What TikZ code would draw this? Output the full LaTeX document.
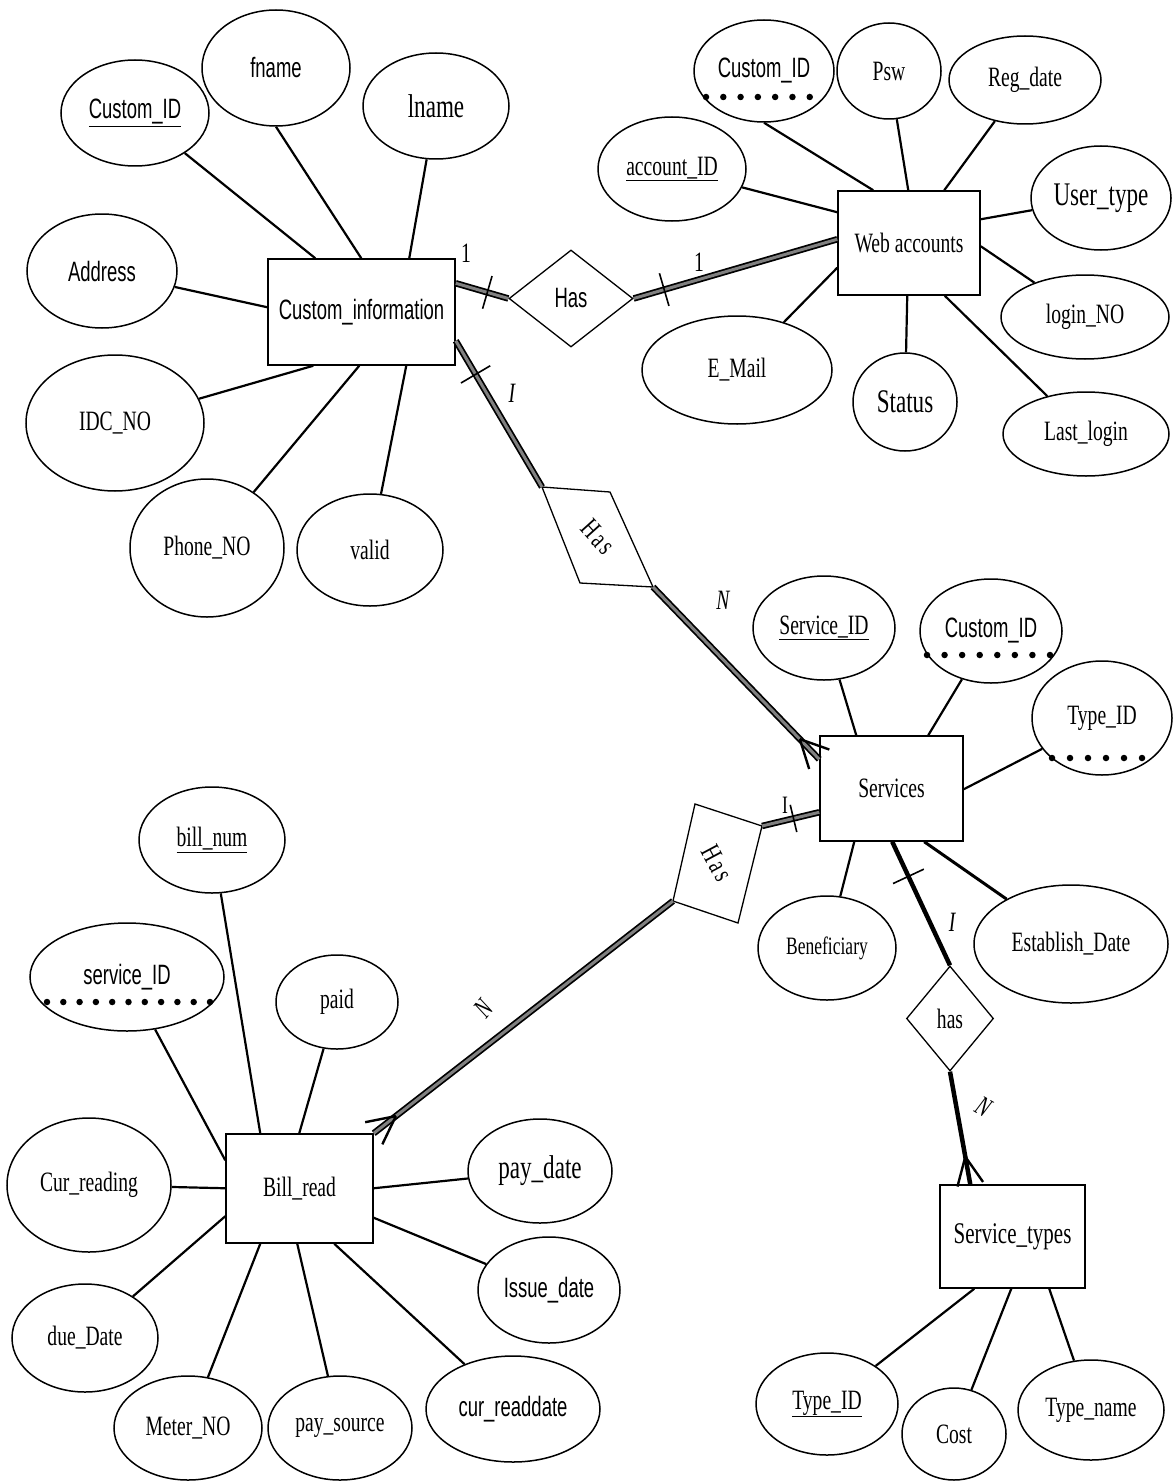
\documentclass[tikz,border=0pt]{standalone}
\usepackage{fontspec}
\setmainfont{Liberation Serif}[FakeStretch=0.7]
\newfontfamily\optsans{Liberation Sans}[FakeStretch=0.66]
\usetikzlibrary{shapes.geometric,calc}

\begin{document}
\begin{tikzpicture}[x=1pt,y=-1pt,
  attr/.style={ellipse, draw, line width=1.5pt, inner sep=0pt, font=\fontsize{28}{30}\selectfont},
  sz/.style 2 args={minimum width=#1pt, minimum height=#2pt},
  big/.style={font=\fontsize{33}{35}\selectfont},
  sans/.style={font=\optsans\fontsize{28}{30}\selectfont},
  entity/.style={rectangle, draw, line width=1.5pt, inner sep=0pt, font=\fontsize{28}{30}\selectfont},
  reldia/.style={diamond, draw, line width=1.3pt, inner sep=0pt, font=\fontsize{28}{30}\selectfont},
  relpoly/.style={line width=1.3pt, line join=miter},
  link/.style={line width=2.2pt},
  relline/.style={line width=6.5pt, postaction={draw=black!50, line width=3pt}},
  strongline/.style={line width=4.5pt},
  tick/.style={line width=1.6pt},
  crow/.style={line width=2.4pt},
  card/.style={font=\fontsize{28}{30}\selectfont, inner sep=0pt},
  icard/.style={font=\fontsize{28}{30}\selectfont\itshape, inner sep=0pt},
  keydots/.style={line width=6.5pt, line cap=round}
]
\useasboundingbox (0,0) rectangle (1172,1482);

% ---------------- Custom_information ----------------
\node[entity, sans, minimum width=187pt, minimum height=106pt] (ci) at (361.5,312) {Custom\_information};
\node[attr, sans, sz={148}{106}] (ci_id) at (135,113) {\underline{Custom\_ID}};
\node[attr, sans, sz={148}{116}] (ci_fn) at (276,68) {fname};
\node[attr, big, sz={146}{106}] (ci_ln) at (436,106) {lname};
\node[attr, sans, sz={150}{114}] (ci_ad) at (102,271) {Address};
\node[attr, sz={178}{136}] (ci_idc) at (115,423) {IDC\_NO};
\node[attr, sz={154}{138}] (ci_ph) at (207,548) {Phone\_NO};
\node[attr, sz={146}{112}] (ci_va) at (370,550) {valid};

\draw[link] (ci_id) -- ($(ci.north west)+(48,0)$);
\draw[link] (ci_fn.south) -- ($(ci.north west)+(94,0)$);
\draw[link] (ci_ln) -- ($(ci.north west)+(142,0)$);
\draw[link] (ci_ad) -- ($(ci.north west)+(0,49)$);
\draw[link] (ci_idc) -- ($(ci.south west)+(46,0)$);
\draw[link] (ci_ph) -- ($(ci.south west)+(92,0)$);
\draw[link] (ci_va) -- ($(ci.south west)+(139,0)$);

% ---------------- Web accounts ----------------
\node[entity, minimum width=142pt, minimum height=104pt] (wa) at (909,243) {Web accounts};
\node[attr, sans, sz={140}{102}] (wa_cid) at (764,71) {Custom\_ID};
\node[attr, sz={104}{96}] (wa_psw) at (889,71) {Psw};
\node[attr, sz={152}{88}] (wa_reg) at (1025,80) {Reg\_date};
\node[attr, sz={148}{104}] (wa_acc) at (672,169) {\underline{account\_ID}};
\node[attr, big, sz={140}{104}] (wa_ut) at (1101,198) {User\_type};
\node[attr, sz={168}{84}] (wa_lno) at (1085,317) {login\_NO};
\node[attr, sz={166}{84}] (wa_last) at (1086,434) {Last\_login};
\node[attr, big, sz={104}{98}] (wa_st) at (905,402) {Status};
\node[attr, sz={190}{108}] (wa_em) at (737,370) {E\_Mail};

\draw[keydots, dash pattern=on 0pt off 17.29pt] ($(wa_cid)+(-58,26)$) -- ($(wa_cid)+(63,26)$);

\draw[link] (wa_cid.south) -- ($(wa.north west)+(36,0)$);
\draw[link] (wa_psw) -- ($(wa.north west)+(71,0)$);
\draw[link] (wa_reg) -- ($(wa.north west)+(107,0)$);
\draw[link] (wa_acc) -- ($(wa.north west)+(0,22)$);
\draw[link] (wa_ut) -- ($(wa.north east)+(0,29)$);
\draw[link] (wa_lno) -- ($(wa.north east)+(0,56)$);
\draw[link] (wa_last) -- ($(wa.south east)+(-36,0)$);
\draw[link] (wa_st) -- ($(wa.south west)+(70,0)$);
\draw[link] (wa_em) -- ($(wa.south west)+(0,-28)$);

% ---------------- Services ----------------
\node[entity, minimum width=143pt, minimum height=105pt] (sv) at (891.5,788.5) {Services};
\node[attr, sz={142}{104}] (sv_id) at (824,628) {\underline{Service\_ID}};
\node[attr, sans, sz={142}{104}] (sv_cid) at (991,631) {Custom\_ID};
\node[attr, sz={140}{114}] (sv_tid) at (1102,718) {Type\_ID};
\node[attr, font=\fontsize{25}{27}\selectfont, sz={138}{104}] (sv_ben) at (827,948) {Beneficiary};
\node[attr, sz={194}{118}] (sv_est) at (1071,944) {Establish\_Date};

\draw[keydots, dash pattern=on 0pt off 17.57pt] ($(sv_cid)+(-64,24)$) -- ($(sv_cid)+(59,24)$);
\draw[keydots, dash pattern=on 0pt off 18pt] ($(sv_tid)+(-50,40)$) -- ($(sv_tid)+(40,40)$);

\draw[link] (sv_id) -- ($(sv.north west)+(37,0)$);
\draw[link] (sv_cid) -- ($(sv.north west)+(109,0)$);
\draw[link] (sv_tid) -- ($(sv.north east)+(0,54)$);
\draw[link] (sv_ben) -- ($(sv.south west)+(35,0)$);
\draw[link, line width=3pt] (sv_est) -- ($(sv.south west)+(105,0)$);

% ---------------- Service_types ----------------
\node[reldia, minimum width=87pt, minimum height=105pt] (hs) at (950,1018.5) {has};
\node[entity, font=\fontsize{30}{32}\selectfont, minimum width=145pt, minimum height=103pt] (st) at (1012.5,1236.5) {Service\_types};
\node[attr, sz={142}{102}] (st_id) at (827,1404) {\underline{Type\_ID}};
\node[attr, sz={104}{92}] (st_cost) at (954,1434) {Cost};
\node[attr, sz={146}{100}] (st_nm) at (1091,1410) {Type\_name};

\draw[link] (st_id) -- ($(st.south west)+(35,0)$);
\draw[link] (st_cost) -- ($(st.south west)+(72,0)$);
\draw[link] (st_nm) -- ($(st.south west)+(110,0)$);

% ---------------- Bill_read ----------------
\node[entity, minimum width=147pt, minimum height=109pt] (br) at (299.5,1188.5) {Bill\_read};
\node[attr, sz={146}{106}] (br_num) at (212,840) {\underline{bill\_num}};
\node[attr, sans, sz={194}{108}] (br_sid) at (127,977) {service\_ID};
\node[attr, sz={122}{94}] (br_paid) at (337,1002) {paid};
\node[attr, sz={164}{134}] (br_cur) at (89,1185) {Cur\_reading};
\node[attr, big, sz={144}{104}] (br_pd) at (540,1171) {pay\_date};
\node[attr, sans, sz={142}{106}] (br_iss) at (549,1290) {Issue\_date};
\node[attr, sz={146}{108}] (br_due) at (85,1338) {due\_Date};
\node[attr, sz={148}{104}] (br_met) at (188,1428) {Meter\_NO};
\node[attr, sz={144}{104}] (br_src) at (340,1428) {pay\_source};
\node[attr, sans, sz={174}{106}] (br_crd) at (513,1409) {cur\_readdate};

\draw[keydots, dash pattern=on 0pt off 16.3pt] ($(br_sid)+(-80,25)$) -- ($(br_sid)+(83,25)$);

\draw[link] (br_num) -- ($(br.north west)+(35,0)$);
\draw[link] (br_sid) -- ($(br.north west)+(0,27)$);
\draw[link] (br_paid) -- ($(br.north west)+(74,0)$);
\draw[link] (br_cur) -- ($(br.north west)+(0,55)$);
\draw[link] (br_due) -- ($(br.north west)+(0,83)$);
\draw[link] (br_met) -- ($(br.south west)+(35,0)$);
\draw[link] (br_src) -- ($(br.south west)+(72,0)$);
\draw[link] (br_crd) -- ($(br.south west)+(109,0)$);
\draw[link] (br_iss) -- ($(br.south east)+(0,-26)$);
\draw[link] (br_pd) -- ($(br.north east)+(0,55)$);

% ---------------- Relationship: Custom_information -- Web accounts ----------------
\node[reldia, sans, minimum width=124pt, minimum height=97pt] (h1) at (571,298.5) {Has};
\coordinate (r1a) at ($(ci.north east)+(0,25)$);
\draw[relline] (r1a) -- (h1.west);
\coordinate (k1) at ($(r1a)!0.6!(h1.west)$);
\draw[tick] ($(k1)!17pt!90:(h1.west)$) -- ($(k1)!17pt!-90:(h1.west)$);
\node[card] (c1) at (466,253) {1};

\coordinate (r2b) at ($(wa.north west)+(0,49)$);
\draw[relline] (h1.east) -- (r2b);
\coordinate (k2) at ($(h1.east)!0.15!(r2b)$);
\draw[tick] ($(k2)!17pt!90:(r2b)$) -- ($(k2)!17pt!-90:(r2b)$);
\node[card] (c2) at (699,262) {1};

% ---------------- Relationship: Custom_information -- Services ----------------
\coordinate (h2a) at (542,487);
\coordinate (h2b) at (610,492);
\coordinate (h2c) at (653,587);
\coordinate (h2d) at (580,583);
\draw[relpoly] (h2a) -- (h2b) -- (h2c) -- (h2d) -- cycle;
\node[card, rotate=-48] (h2) at (598,537) {H\kern3pt a\kern3pt s};

\coordinate (r3a) at ($(ci.south east)+(0,-25)$);
\draw[relline] (r3a) -- (h2a);
\coordinate (k3) at ($(r3a)!0.23!(h2a)$);
\draw[tick] ($(k3)!17pt!90:(h2a)$) -- ($(k3)!17pt!-90:(h2a)$);
\node[icard] (c3) at (512,393) {I};

\coordinate (r4b) at ($(sv.north west)+(0,24)$);
\draw[relline] (h2c) -- (r4b);
\coordinate (f4) at ($(r4b)!28pt!(h2c)$);
\draw[crow] (f4) -- ($(r4b)!14pt!90:(h2c)$);
\draw[crow] (f4) -- ($(r4b)!14pt!-90:(h2c)$);
\node[icard] (c4) at (723,600) {N};

% ---------------- Relationship: Services -- Bill_read ----------------
\coordinate (h3a) at (695,804);
\coordinate (h3b) at (762,826);
\coordinate (h3c) at (738,923);
\coordinate (h3d) at (673,901);
\draw[relpoly] (h3a) -- (h3b) -- (h3c) -- (h3d) -- cycle;
\node[card, rotate=-62] (h3) at (717,863) {H\kern3pt a\kern3pt s};

\coordinate (r5a) at ($(sv.north west)+(0,77)$);
\draw[relline] (r5a) -- (h3b);
\coordinate (k5) at ($(r5a)!0.45!(h3b)$);
\draw[tick] ($(k5)!14pt!90:(h3b)$) -- ($(k5)!14pt!-90:(h3b)$);
\node[card, font=\fontsize{25}{27}\selectfont] (c5) at (785,805) {I};

\coordinate (r6b) at (br.north east);
\draw[relline] (h3d) -- (r6b);
\coordinate (f6) at ($(r6b)!28pt!(h3d)$);
\draw[crow] (f6) -- ($(r6b)!14pt!90:(h3d)$);
\draw[crow] (f6) -- ($(r6b)!14pt!-90:(h3d)$);
\node[icard, rotate=50] (c6) at (484,1009) {N};

% ---------------- Relationship: Services -- Service_types ----------------
\coordinate (r7a) at ($(sv.south west)+(73,0)$);
\draw[strongline] (r7a) -- (hs.north);
\coordinate (k7) at ($(r7a)!0.28!(hs.north)$);
\draw[tick] ($(k7)!17pt!90:(hs.north)$) -- ($(k7)!17pt!-90:(hs.north)$);
\node[icard] (c7) at (952,922) {I};

\coordinate (r8b) at ($(st.north west)+(31,0)$);
\draw[strongline] (hs.south) -- (r8b);
\coordinate (f8) at ($(r8b)!28pt!(hs.south)$);
\draw[crow] (f8) -- ($(r8b)!13pt!90:(hs.south)$);
\draw[crow] (f8) -- ($(r8b)!13pt!-90:(hs.south)$);
\node[icard, rotate=-30] (c8) at (984,1107) {N};

\end{tikzpicture}
\end{document}
